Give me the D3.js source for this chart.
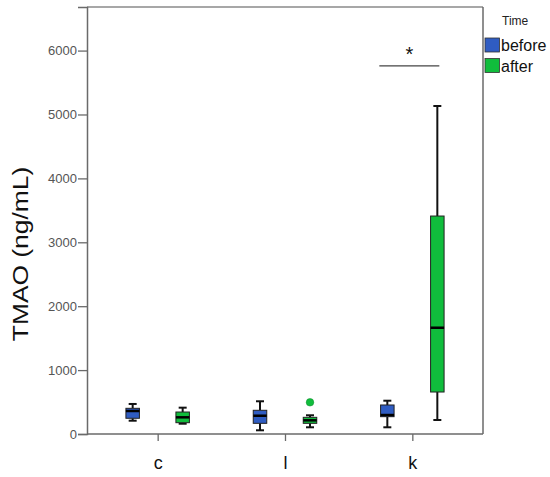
<!DOCTYPE html>
<html>
<head>
<meta charset="utf-8">
<script src="https://cdn.jsdelivr.net/npm/d3@7"></script>
<style>
  html, body { margin: 0; padding: 0; background: #fff; }
  svg { display: block; }
</style>
</head>
<body>
<svg id="chart" width="550" height="477"></svg>
<script>
// ---- data ----
const categories = ["c", "l", "k"];
const times = ["before", "after"];
const yTicks = [0, 1000, 2000, 3000, 4000, 5000, 6000];

// box statistics per category (c, l, k)
const beforeLow  = [208, 58, 105];
const beforeQ1   = [246, 167, 271];
const beforeMed  = [360, 286, 297];
const beforeQ3   = [402, 371, 454];
const beforeHigh = [470, 512, 521];

const afterLow  = [161, 105, 219];
const afterQ1   = [177, 167, 657];
const afterMed  = [261, 214, 1663];
const afterQ3   = [344, 261, 3411];
const afterHigh = [412, 293, 5133];

// outliers: [category, time, value]
const outliers = [["l", "after", 496]];

const sigCategory = "k";
const sigValue = 5760;
const sigLabel = "*";

const colors = { before: "#2f5cc2", after: "#10bd3c" };

(function () {
// ---- layout ----
const svg = d3.select("#chart");
const pLeft = 87, pRight = 483, pTop = 7, pBottom = 434;

const x = d3.scalePoint().domain(categories).range([pLeft, pRight]).padding(0.555);
const xt = d3.scalePoint().domain(times).range([-25, 25]);
const y = d3.scaleLinear().domain([0, 6682]).range([pBottom, pTop]);

const boxes = [];
categories.forEach((c, i) => {
  boxes.push({ cat: c, time: "before", low: beforeLow[i], q1: beforeQ1[i], med: beforeMed[i], q3: beforeQ3[i], high: beforeHigh[i] });
  boxes.push({ cat: c, time: "after", low: afterLow[i], q1: afterQ1[i], med: afterMed[i], q3: afterQ3[i], high: afterHigh[i] });
});

const frameColor = "#6a6a6a";

// frame top and right
svg.append("line").attr("x1", pLeft).attr("x2", pRight).attr("y1", pTop).attr("y2", pTop)
  .attr("stroke", "#8a8a8a").attr("stroke-width", 1.5);
svg.append("line").attr("x1", pRight).attr("x2", pRight).attr("y1", pTop).attr("y2", pBottom)
  .attr("stroke", frameColor).attr("stroke-width", 1.5);

// y axis
const yAxis = svg.append("g").attr("transform", `translate(${pLeft},0)`)
  .call(d3.axisLeft(y).tickValues(yTicks).tickSize(9).tickPadding(1).tickFormat(d3.format("d")));
yAxis.select(".domain").attr("stroke", frameColor).attr("stroke-width", 1.5);
yAxis.selectAll(".tick line").attr("stroke", frameColor).attr("stroke-width", 1.3);
yAxis.selectAll(".tick text").attr("fill", "#555").attr("font-family", "Liberation Sans, Arial, sans-serif")
  .attr("font-size", 13);

// x axis
const xAxis = svg.append("g").attr("transform", `translate(0,${pBottom})`)
  .call(d3.axisBottom(x).tickSize(7).tickPadding(0).tickSizeOuter(0));
xAxis.select(".domain").attr("stroke", frameColor).attr("stroke-width", 1.5)
  .attr("d", `M${pLeft},0H${pRight}`);
xAxis.selectAll(".tick line").attr("stroke", frameColor).attr("stroke-width", 1.3);
xAxis.selectAll(".tick text").attr("fill", "#111").attr("font-family", "Liberation Sans, Arial, sans-serif")
  .attr("font-size", 18).attr("dy", null).attr("y", 35);

// y label
svg.append("text")
  .attr("transform", "translate(28,254) rotate(-90) scale(1.2,1)")
  .attr("text-anchor", "middle")
  .attr("font-family", "Liberation Sans, Arial, sans-serif")
  .attr("font-size", 22)
  .attr("fill", "#111")
  .text("TMAO (ng/mL)");

// boxes
const bw = 13.5, capW = 8;
const g = svg.append("g");
boxes.forEach(b => {
  const cx = x(b.cat) + xt(b.time);
  const gg = g.append("g");
  gg.append("line").attr("x1", cx).attr("x2", cx).attr("y1", y(b.high)).attr("y2", y(b.q3))
    .attr("stroke", "#111").attr("stroke-width", 2);
  gg.append("line").attr("x1", cx).attr("x2", cx).attr("y1", y(b.q1)).attr("y2", y(b.low))
    .attr("stroke", "#111").attr("stroke-width", 2);
  gg.append("line").attr("x1", cx - capW / 2).attr("x2", cx + capW / 2).attr("y1", y(b.high)).attr("y2", y(b.high))
    .attr("stroke", "#111").attr("stroke-width", 2);
  gg.append("line").attr("x1", cx - capW / 2).attr("x2", cx + capW / 2).attr("y1", y(b.low)).attr("y2", y(b.low))
    .attr("stroke", "#111").attr("stroke-width", 2);
  gg.append("rect").attr("x", cx - bw / 2).attr("width", bw)
    .attr("y", y(b.q3)).attr("height", y(b.q1) - y(b.q3))
    .attr("fill", colors[b.time]).attr("stroke", "#222").attr("stroke-width", 1);
  gg.append("line").attr("x1", cx - bw / 2).attr("x2", cx + bw / 2).attr("y1", y(b.med)).attr("y2", y(b.med))
    .attr("stroke", "#000").attr("stroke-width", 2.5);
});

// outliers
outliers.forEach(o => {
  g.append("circle").attr("cx", x(o[0]) + xt(o[1])).attr("cy", y(o[2])).attr("r", 3.8)
    .attr("fill", colors[o[1]]).attr("stroke", "#0a8a2a").attr("stroke-width", 0.5);
});

// significance
const sx1 = x(sigCategory) + xt("before") - 8;
const sx2 = x(sigCategory) + xt("after") + 2;
svg.append("line").attr("x1", sx1).attr("x2", sx2).attr("y1", y(sigValue)).attr("y2", y(sigValue))
  .attr("stroke", "#444").attr("stroke-width", 1.3);
svg.append("text").attr("x", (sx1 + sx2) / 2).attr("y", y(sigValue) - 5)
  .attr("text-anchor", "middle").attr("font-family", "Liberation Sans, Arial, sans-serif")
  .attr("font-size", 20).attr("fill", "#111").text(sigLabel);

// legend
const lg = svg.append("g");
lg.append("text").attr("x", 502).attr("y", 25).attr("font-family", "Liberation Sans, Arial, sans-serif")
  .attr("font-size", 12).attr("fill", "#222").text("Time");
times.forEach((t, i) => {
  const yy = 38 + i * 20.5;
  lg.append("rect").attr("x", 485).attr("y", yy).attr("width", 14.5).attr("height", 14)
    .attr("fill", colors[t]).attr("stroke", "#333").attr("stroke-width", 0.8);
  lg.append("text").attr("x", 501).attr("y", yy + 13).attr("font-family", "Liberation Sans, Arial, sans-serif")
    .attr("font-size", 16).attr("fill", "#111").text(t);
});
})();
</script>
</body>
</html>
